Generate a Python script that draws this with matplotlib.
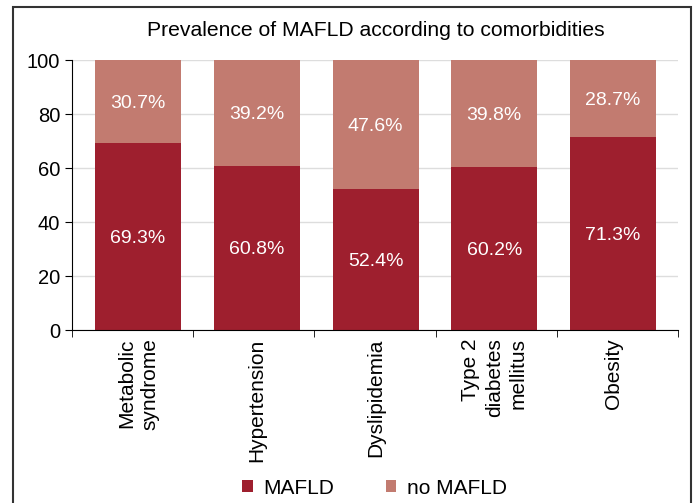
import matplotlib.pyplot as plt
from matplotlib.patches import Rectangle
import numpy as np

plt.rcParams['font.family'] = ['Liberation Sans', 'DejaVu Sans']

categories = ['Metabolic\nsyndrome', 'Hypertension', 'Dyslipidemia',
              'Type 2\ndiabetes\nmellitus', 'Obesity']
mafld = [69.3, 60.8, 52.4, 60.2, 71.3]
no_mafld = [30.7, 39.2, 47.6, 39.8, 28.7]
yticks = [0, 20, 40, 60, 80, 100]

dark = '#9E1F2E'
light = '#C27B70'

fig = plt.figure(figsize=(6.96, 5.03), dpi=100)
ax = fig.add_axes([72 / 696, 1 - 330 / 503, (678 - 72) / 696, 270 / 503])

x = np.arange(len(categories))
b1 = ax.bar(x, mafld, width=0.724, color=dark, label='MAFLD', zorder=2)
b2 = ax.bar(x, no_mafld, width=0.724, bottom=mafld, color=light, label='no MAFLD', zorder=2)

for i in range(len(x)):
    ax.text(x[i], mafld[i] / 2, f'{mafld[i]:.1f}%', color='white',
            ha='center', va='center_baseline', fontsize=14, zorder=3)
    ax.text(x[i], mafld[i] + no_mafld[i] / 2, f'{no_mafld[i]:.1f}%', color='white',
            ha='center', va='center_baseline', fontsize=14, zorder=3)

# bars sit slightly off the category boundaries in the original
xlo, xhi = -0.556, 4.547
ax.set_xlim(xlo, xhi)
ax.set_ylim(0, 100)
ax.set_yticks(yticks)
ax.tick_params(axis='y', labelsize=14.5, length=5, direction='out')
ax.yaxis.grid(True, color='#DDDDDD', linewidth=1, zorder=0)
ax.set_axisbelow(True)

ax.set_xticks(x)
ax.set_xticklabels(categories, rotation=90, ha='center', va='top',
                   multialignment='right', fontsize=15, linespacing=1.3)
ax.tick_params(axis='x', length=0, pad=6)
ax.set_xticks(np.linspace(xlo, xhi, len(x) + 1), minor=True)
ax.tick_params(axis='x', which='minor', length=5, direction='out')

for s in ['top', 'right']:
    ax.spines[s].set_visible(False)

fig.text(376 / 696, 1 - 31 / 503, 'Prevalence of MAFLD according to comorbidities',
         ha='center', va='center', fontsize=15.2)

fig.legend(handles=[b1, b2], loc='center', bbox_to_anchor=(0.538, 1 - 488 / 503),
           ncol=2, frameon=False, fontsize=15, handlelength=0.5, handleheight=0.5,
           columnspacing=2.5, handletextpad=0.5)

fig.patches.append(Rectangle((13 / 696, -0.05), (691 - 13) / 696, 1.05 - 7 / 503,
                             transform=fig.transFigure, fill=False,
                             edgecolor='#333333', linewidth=1.5))

fig.savefig('out.png', dpi=100)
